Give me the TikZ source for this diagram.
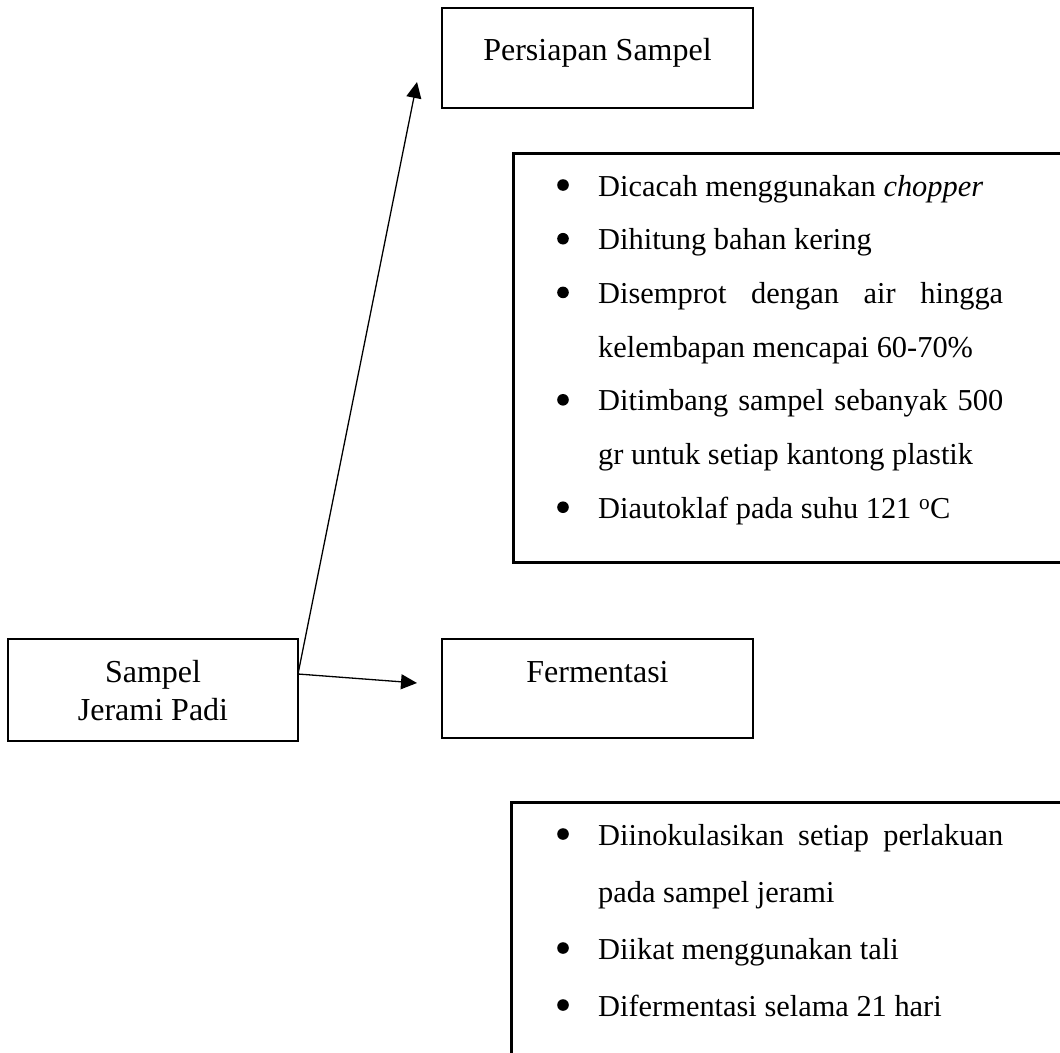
\documentclass[tikz,border=0pt]{standalone}
\usepackage{fontspec}
\setmainfont{Liberation Serif}
\usetikzlibrary{arrows.meta}
\begin{document}
\begin{tikzpicture}[x=1pt,y=-1pt,
  box/.style={draw, line width=2.6pt, inner sep=0pt, rectangle},
  txt/.style={inner sep=0pt, font=\fontsize{30.4}{36}\selectfont},
  lbl/.style={inner sep=0pt, anchor=base, font=\fontsize{32}{38}\selectfont},
  item/.style={txt, anchor=base west},
  dot/.style={fill=black},
  conn/.style={line width=1.3pt, -{Triangle[length=16pt,width=15pt]}}]
\useasboundingbox (0,0) rectangle (1060,1052);

% main boxes
\node[box, minimum width=290pt, minimum height=102pt] (sampel) at (153,690) {};
\node[lbl] (sampelA) at (153,682) {Sampel};
\node[lbl] (sampelB) at (153,720) {Jerami Padi};

\node[box, minimum width=311pt, minimum height=100pt] (persiapan) at (597.5,58) {};
\node[lbl] (persiapanT) at (597.5,60) {Persiapan Sampel};

\node[box, minimum width=311pt, minimum height=99pt] (fermentasi) at (597.5,688.5) {};
\node[lbl] (fermentasiT) at (597.5,682) {Fermentasi};

% list boxes (running past the right edge)
\node[box, anchor=north west, minimum width=620pt, minimum height=409pt] (prepbox) at (512,152) {};
\node[box, anchor=north west, minimum width=620pt, minimum height=420pt] (fermbox) at (510,801) {};

% preparation steps
\node[item] (p1) at (598,196)   {Dicacah menggunakan \textit{chopper}};
\node[item] (p2) at (598,249.7) {Dihitung bahan kering};
\node[item] (p3) at (598,303.4) {\makebox[405pt][s]{Disemprot dengan air hingga}};
\node[item] (p4) at (598,357.1) {kelembapan mencapai 60-70\%};
\node[item] (p5) at (598,410.8) {\makebox[405pt][s]{Ditimbang sampel sebanyak 500}};
\node[item] (p6) at (598,464.5) {gr untuk setiap kantong plastik};
\node[item] (p7) at (598,518.2) {Diautoklaf pada suhu 121 \textsuperscript{o}C};

% fermentation steps
\node[item] (f1) at (598,845)  {\makebox[405pt][s]{Diinokulasikan setiap perlakuan}};
\node[item] (f2) at (598,902)  {pada sampel jerami};
\node[item] (f3) at (598,959)  {Diikat menggunakan tali};
\node[item] (f4) at (598,1016) {Difermentasi selama 21 hari};

% bullets in front of each step
\foreach \n in {p1,p2,p3,p5,p7,f1,f3,f4}
  \fill[dot] (\n.base west) ++(-35,-11) circle (5.8pt);

% connectors
\coordinate (src) at (298,674);
\coordinate (tipP) at (417,82);
\coordinate (tipF) at (417,683);
\draw[conn] (src) -- (tipP);
\draw[conn] (src) -- (tipF);
\end{tikzpicture}
\end{document}
